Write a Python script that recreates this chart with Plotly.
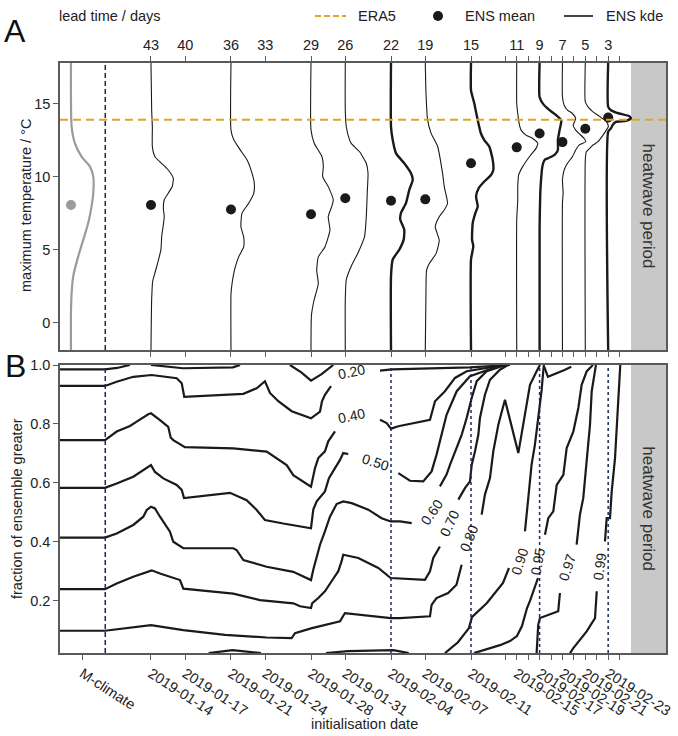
import plotly.graph_objects as go

# ---------------- data ----------------
lead_major = [43, 40, 36, 33, 29, 26, 22, 19, 15, 11, 9, 7, 5, 3]
lead_minor = [12, 10, 8, 6, 4, 2]
init_dates = ["2019-01-14", "2019-01-17", "2019-01-21", "2019-01-24", "2019-01-28",
              "2019-01-31", "2019-02-04", "2019-02-07", "2019-02-11", "2019-02-15",
              "2019-02-17", "2019-02-19", "2019-02-21", "2019-02-23"]
mclim_tick_lead = 49
mclim_curve_lead = 50
mclim_sep_lead = 47
highlight_leads = [22, 15, 9, 3]
heatwave_start_lead = 1
era5_tmax = 13.9
x_range = [50.96, -2.06]
yA_range = [-1.88, 17.8]
yB_range = [0.0224, 1.0]

ens_mean_lead = [43, 36, 29, 26, 22, 19, 15, 11, 9, 7, 5, 3]
ens_mean_T = [8.05, 7.75, 7.42, 8.52, 8.34, 8.44, 10.91, 12.0, 12.95, 12.36, 13.27, 14.05]
mclim_mean_T = 8.05

# KDE curves: temperature and density width (days)
kde_T_mc = [17.8, 13.4, 12.27, 11.36, 10.68, 10.0, 8.86, 7.73, 6.82, 5.68, 4.55, 3.18, 2.05, 0.68, -1.88]
kde_w_mc = [0, 0.06, 0.35, 0.93, 1.66, 1.95, 1.95, 1.75, 1.51, 1.08, 0.64, 0.20, 0.06, 0, 0]
kde_T_43 = [17.8, 14.55, 13.41, 12.05, 11.36, 10.91, 10.45, 9.89, 9.32, 8.86, 8.41, 7.84, 7.27, 6.70, 5.91, 5.0, 4.09, 3.41, 2.84, 1.59, -1.88]
kde_w_43 = [0, 0.06, 0.12, 0.12, 0.35, 0.93, 1.51, 1.95, 1.86, 1.51, 1.16, 1.08, 1.16, 1.08, 0.94, 0.87, 0.59, 0.35, 0.15, 0.06, 0]
kde_T_36 = [17.8, 13.18, 12.52, 11.83, 11.15, 10.23, 9.54, 8.85, 8.17, 7.48, 6.56, 5.87, 5.18, 4.50, 3.81, 3.35, 2.66, 1.97, -1.88]
kde_w_36 = [0, 0, 0.24, 0.81, 1.40, 1.84, 2.04, 1.99, 1.55, 0.96, 0.87, 1.11, 1.11, 0.67, 0.38, 0.24, 0.09, 0, 0]
kde_T_29 = [17.8, 13.2, 12.27, 11.36, 10.69, 10.0, 9.31, 8.39, 7.94, 7.25, 6.33, 5.18, 4.50, 3.58, 2.66, 1.51, 0.5, -1.88]
kde_w_29 = [0, 0, 0.29, 0.96, 1.08, 1.02, 1.51, 1.95, 1.81, 1.51, 1.66, 1.22, 0.64, 0.50, 0.64, 0.26, 0.04, 0]
kde_T_26 = [17.8, 14.55, 13.41, 12.5, 12.27, 11.7, 10.91, 10.23, 8.86, 7.27, 5.91, 4.77, 3.86, 2.95, 1.59, -1.88]
kde_w_26 = [0, 0, 0.09, 0.38, 0.52, 1.25, 1.84, 1.99, 1.92, 1.84, 1.69, 1.11, 0.52, 0.09, 0, 0]
kde_T_22 = [17.8, 13.41, 12.5, 11.59, 10.91, 10.23, 9.77, 9.09, 8.18, 7.5, 7.05, 6.36, 5.68, 5.0, 4.32, 3.18, -1.88]
kde_w_22 = [0, 0, 0.15, 0.44, 1.16, 1.75, 1.90, 1.60, 1.31, 0.87, 0.81, 1.16, 1.11, 0.73, 0.15, 0, 0]
kde_T_19 = [17.8, 15.73, 13.9, 12.98, 12.06, 10.23, 9.31, 8.17, 7.71, 7.25, 6.56, 5.64, 4.72, 4.04, 3.58, 2.2, -1.88]
kde_w_19 = [0, 0.06, 0.20, 0.50, 1.08, 1.51, 1.66, 1.95, 1.66, 1.22, 0.87, 1.22, 0.94, 0.35, 0.11, 0.06, 0]
kde_T_15 = [17.8, 15.91, 15.0, 13.86, 12.95, 12.5, 12.05, 11.14, 10.45, 10.11, 9.66, 9.20, 8.64, 7.95, 7.5, 6.82, 5.68, 5.23, 4.32, -1.88]
kde_w_15 = [0, 0, 0.29, 0.59, 0.87, 1.16, 1.60, 1.90, 1.95, 1.75, 1.16, 0.67, 0.44, 0.59, 0.38, 0.15, 0.09, 0.20, 0, 0]
kde_T_11 = [17.8, 15.0, 14.32, 13.52, 13.18, 12.84, 12.61, 12.27, 11.93, 11.36, 10.68, 10.11, 9.32, 8.41, 7.05, -1.88]
kde_w_11 = [0, 0, 0.09, 0.24, 0.38, 0.81, 1.40, 1.84, 1.69, 1.11, 0.52, 0.17, 0.09, 0.09, 0, 0]
kde_T_9 = [17.8, 15.45, 15.0, 14.55, 14.2, 13.86, 13.18, 12.5, 11.82, 11.48, 11.25, 11.14, 10.68, 10.0, 8.86, 6.5, -1.88]
kde_w_9 = [0, 0, 0.29, 0.87, 1.46, 1.90, 1.75, 1.60, 1.60, 1.31, 0.73, 0.44, 0.24, 0.15, 0.06, 0, 0]
kde_T_7 = [17.8, 15.45, 14.89, 14.55, 14.32, 13.98, 13.52, 13.18, 12.61, 12.39, 12.16, 11.82, 11.36, 10.91, 10.45, 9.77, 8.86, 8.2, -1.88]
kde_w_7 = [0, 0, 0.15, 0.44, 0.87, 1.16, 0.94, 1.16, 1.90, 2.04, 1.46, 1.16, 0.87, 0.44, 0.15, 0, 0.06, 0, 0]
kde_T_5 = [17.8, 15.11, 14.77, 14.43, 14.2, 13.98, 13.86, 13.64, 13.41, 13.18, 12.84, 12.39, 12.16, 11.93, 11.70, 11.14, -1.88]
kde_w_5 = [0, 0, 0.24, 0.67, 1.11, 1.49, 1.75, 1.95, 2.01, 1.84, 1.55, 1.11, 0.67, 0.38, 0.09, 0, 0]
kde_T_3 = [17.8, 14.77, 14.55, 14.32, 14.14, 13.98, 13.82, 13.75, 13.52, 13.30, 13.07, -1.88]
kde_w_3 = [0, 0, 0.24, 0.96, 1.84, 1.99, 1.55, 0.67, 0.38, 0.24, 0, 0]

# Contour lines of panel B: (lead, fraction) per segment
c010_a_lead = [50.96, 47.02, 45.97, 44.84]; c010_a_frac = [0.985, 0.985, 0.990, 1.0]
c010_b_lead = [43.0, 40.2, 35.83, 35.21]; c010_b_frac = [1.0, 0.989, 0.992, 1.0]
c010_c_lead = [30.84, 29.82, 29.0, 28.07, 27.05]; c010_c_frac = [1.0, 0.974, 0.947, 0.969, 1.0]

c020_a_lead = [50.96, 47.02, 46.0, 44.55, 42.94, 40.75, 40.31, 40.09, 34.92, 33.75, 33.03, 32.59, 31.86, 30.69, 29.0, 28.21, 28.04, 27.78, 27.25]
c020_a_frac = [0.929, 0.929, 0.943, 0.960, 0.966, 0.955, 0.938, 0.892, 0.902, 0.921, 0.945, 0.905, 0.877, 0.843, 0.819, 0.842, 0.877, 0.899, 0.928]
c020_b_lead = [22.96, 21.94, 15.09, 12.47, 11.59]
c020_b_frac = [0.981, 0.985, 0.992, 0.997, 1.0]

c040_a_lead = [50.96, 47.02, 46.0, 44.84, 44.25, 43.67, 43.24, 43.0, 42.65, 42.21, 41.49, 41.28, 41.05, 40.03, 35.80, 32.88, 31.13, 30.55, 29.0, 28.65, 28.36, 27.78, 27.49, 26.90]
c040_a_frac = [0.745, 0.745, 0.774, 0.793, 0.808, 0.824, 0.833, 0.836, 0.827, 0.813, 0.790, 0.754, 0.745, 0.721, 0.717, 0.706, 0.660, 0.626, 0.587, 0.650, 0.684, 0.707, 0.741, 0.775]
c040_b_lead = [22.96, 22.38, 22.0, 21.36, 18.59, 18.30, 18.15, 17.28, 16.40, 15.38, 13.34, 12.03]
c040_b_frac = [0.814, 0.803, 0.784, 0.792, 0.814, 0.854, 0.877, 0.911, 0.956, 0.979, 0.992, 1.0]

c050_a_lead = [50.96, 47.02, 46.0, 44.55, 43.0, 42.65, 41.92, 40.75, 40.31, 40.11, 36.09, 34.63, 33.75, 33.03, 31.43, 29.0, 28.80, 28.50, 27.78, 27.43, 26.90, 26.46, 26.18, 25.74]
c050_a_frac = [0.583, 0.583, 0.598, 0.621, 0.660, 0.637, 0.615, 0.593, 0.576, 0.548, 0.566, 0.541, 0.508, 0.474, 0.462, 0.446, 0.509, 0.537, 0.571, 0.616, 0.650, 0.678, 0.701, 0.698]
c050_b_lead = [21.36, 20.34, 19.18, 18.45, 18.02, 17.58, 17.14, 16.25, 15.09, 13.05, 12.03]
c050_b_frac = [0.633, 0.607, 0.605, 0.639, 0.695, 0.763, 0.831, 0.911, 0.962, 0.990, 1.0]

c060_a_lead = [50.96, 47.02, 46.0, 44.55, 43.67, 43.37, 43.0, 42.65, 42.21, 41.34, 41.05, 40.17, 35.80, 35.51, 34.92, 32.88, 30.55, 29.0, 28.80, 28.50, 28.21, 27.78, 27.34, 26.76, 26.18, 25.44, 23.99, 22.82, 22.03, 21.21, 20.19]
c060_a_frac = [0.414, 0.414, 0.428, 0.457, 0.485, 0.508, 0.519, 0.513, 0.485, 0.434, 0.400, 0.378, 0.378, 0.372, 0.338, 0.315, 0.298, 0.270, 0.305, 0.345, 0.390, 0.435, 0.485, 0.528, 0.537, 0.531, 0.509, 0.480, 0.469, 0.469, 0.463]
c060_b_lead = [17.72, 17.14, 16.84, 16.41, 15.82, 15.38, 14.94, 14.50, 13.63, 12.76, 12.03]
c060_b_frac = [0.588, 0.628, 0.661, 0.707, 0.763, 0.820, 0.888, 0.945, 0.979, 0.990, 1.0]

c070_a_lead = [50.96, 47.02, 46.0, 44.55, 42.94, 42.21, 40.46, 40.17, 35.80, 33.46, 30.55, 29.96, 29.0, 28.89, 28.36, 27.78, 27.20, 26.61, 26.32, 26.18, 24.86, 23.11, 22.03, 19.03, 18.59, 18.30, 17.72]
c070_a_frac = [0.239, 0.239, 0.258, 0.281, 0.303, 0.292, 0.270, 0.241, 0.224, 0.202, 0.191, 0.181, 0.175, 0.192, 0.209, 0.232, 0.266, 0.300, 0.334, 0.356, 0.345, 0.311, 0.277, 0.271, 0.300, 0.345, 0.384]
c070_b_lead = [16.11, 15.53, 15.09, 14.94, 14.65, 14.36, 14.22, 13.78, 13.34, 12.47, 11.77]
c070_b_frac = [0.543, 0.582, 0.605, 0.661, 0.707, 0.763, 0.820, 0.899, 0.950, 0.984, 1.0]

c080_a_lead = [50.96, 47.02, 43.0, 40.17, 36.53, 32.88, 30.69, 30.40, 29.0, 26.46, 26.03, 22.03, 21.21, 18.59, 18.45, 18.02, 17.0, 16.27, 15.82]
c080_a_frac = [0.098, 0.098, 0.117, 0.100, 0.084, 0.075, 0.073, 0.090, 0.106, 0.130, 0.158, 0.141, 0.141, 0.147, 0.186, 0.209, 0.226, 0.254, 0.322]
c080_b_lead = [14.07, 13.78, 13.34, 13.05, 12.61, 12.03, 10.86, 10.57, 10.13, 9.84, 9.26, 8.97]
c080_b_frac = [0.492, 0.560, 0.616, 0.707, 0.797, 0.882, 0.701, 0.769, 0.877, 0.933, 0.979, 1.0]

c090_a_lead = [17.28, 16.14, 15.18, 14.92, 13.61, 12.20, 11.68]
c090_a_frac = [0.022, 0.059, 0.107, 0.144, 0.192, 0.260, 0.311]
c090_b_lead = [10.28, 10.13, 9.84, 9.70, 9.41, 9.12, 8.83, 8.68, 8.62]
c090_b_frac = [0.435, 0.492, 0.594, 0.662, 0.729, 0.820, 0.911, 0.979, 1.0]
c090_c_lead = [37.95, 35.86, 33.38]; c090_c_frac = [0.022, 0.032, 0.022]
c090_d_lead = [27.69, 25.76, 21.78, 20.45]; c090_d_frac = [0.022, 0.029, 0.032, 0.022]

c095_a_lead = [14.74, 12.47, 11.59, 10.98, 10.54, 10.10, 9.84, 9.41, 9.14]
c095_a_frac = [0.022, 0.049, 0.063, 0.080, 0.114, 0.175, 0.199, 0.243, 0.277]
c095_b_lead = [8.53, 8.24, 7.80, 7.50, 6.92, 6.63, 6.05, 5.61, 5.32, 4.87, 4.44, 4.33]
c095_b_frac = [0.424, 0.480, 0.503, 0.593, 0.627, 0.718, 0.774, 0.854, 0.933, 0.979, 0.996, 1.0]
c095_c_lead = [8.59, 8.27, 6.82, 6.23]; c095_c_frac = [0.994, 0.960, 0.983, 0.994]

c097_a_lead = [9.26, 9.12, 8.97, 7.37, 7.22]
c097_a_frac = [0.022, 0.118, 0.141, 0.164, 0.226]
c097_b_lead = [5.76, 5.47, 5.18, 4.88, 4.59, 4.44, 4.15, 4.07]
c097_b_frac = [0.390, 0.492, 0.548, 0.684, 0.797, 0.911, 0.979, 1.0]

c099_a_lead = [6.34, 6.05, 4.88, 4.15, 4.0]
c099_a_frac = [0.022, 0.039, 0.096, 0.141, 0.232]
c099_b_lead = [3.28, 3.13, 2.84, 2.69, 2.40, 2.25, 2.11, 1.96, 1.94]
c099_b_frac = [0.401, 0.480, 0.480, 0.571, 0.684, 0.797, 0.911, 0.990, 1.0]

# contour labels: text, lead, fraction, angle
clab_text = ["0.20", "0.40", "0.50", "0.60", "0.70", "0.80", "0.90", "0.95", "0.97", "0.99"]
clab_lead = [25.5, 25.5, 23.4, 18.42, 16.85, 15.18, 10.72, 9.14, 6.6, 3.72]
clab_frac = [0.976, 0.827, 0.671, 0.501, 0.463, 0.413, 0.334, 0.334, 0.311, 0.317]
clab_angle = [-12, -12, 18, -55, -65, -68, -72, -80, -72, -82]

# ---------------- figure ----------------
W, H = 678, 736
FONT = "Liberation Sans, Arial, Helvetica, sans-serif"
INK = "#1a1a1a"
FRAME = "#5a5a5a"
NAVY = "#1c2b55"
GOLD = "#DFA52A"
GREY_BOX = "#c8c8c8"

fig = go.Figure()

# Panel A: KDE curves
kde_sets = [
    (43, kde_T_43, kde_w_43), (36, kde_T_36, kde_w_36), (29, kde_T_29, kde_w_29),
    (26, kde_T_26, kde_w_26), (22, kde_T_22, kde_w_22), (19, kde_T_19, kde_w_19),
    (15, kde_T_15, kde_w_15), (11, kde_T_11, kde_w_11), (9, kde_T_9, kde_w_9),
    (7, kde_T_7, kde_w_7), (5, kde_T_5, kde_w_5), (3, kde_T_3, kde_w_3),
]
fig.add_trace(go.Scatter(
    x=[mclim_curve_lead - w for w in kde_w_mc], y=kde_T_mc, mode="lines",
    line=dict(color="#9b9b9b", width=2.2, shape="spline", smoothing=0.6),
    xaxis="x", yaxis="y", hoverinfo="skip", showlegend=False))
for lead, T, wd in kde_sets:
    thick = lead in highlight_leads
    fig.add_trace(go.Scatter(
        x=[lead - w for w in wd], y=T, mode="lines",
        line=dict(color=INK, width=2.4 if thick else 1.1, shape="spline", smoothing=0.5),
        xaxis="x", yaxis="y", hoverinfo="skip", showlegend=False))

fig.add_trace(go.Scatter(x=[mclim_curve_lead], y=[mclim_mean_T], mode="markers",
                         marker=dict(color="#9b9b9b", size=10),
                         xaxis="x", yaxis="y", showlegend=False))
fig.add_trace(go.Scatter(x=ens_mean_lead, y=ens_mean_T, mode="markers",
                         marker=dict(color=INK, size=10),
                         xaxis="x", yaxis="y", showlegend=False))

# Panel B: contour lines
segments = [
    (c010_a_lead, c010_a_frac), (c010_b_lead, c010_b_frac), (c010_c_lead, c010_c_frac),
    (c020_a_lead, c020_a_frac), (c020_b_lead, c020_b_frac),
    (c040_a_lead, c040_a_frac), (c040_b_lead, c040_b_frac),
    (c050_a_lead, c050_a_frac), (c050_b_lead, c050_b_frac),
    (c060_a_lead, c060_a_frac), (c060_b_lead, c060_b_frac),
    (c070_a_lead, c070_a_frac), (c070_b_lead, c070_b_frac),
    (c080_a_lead, c080_a_frac), (c080_b_lead, c080_b_frac),
    (c090_a_lead, c090_a_frac), (c090_b_lead, c090_b_frac),
    (c090_c_lead, c090_c_frac), (c090_d_lead, c090_d_frac),
    (c095_a_lead, c095_a_frac), (c095_b_lead, c095_b_frac), (c095_c_lead, c095_c_frac),
    (c097_a_lead, c097_a_frac), (c097_b_lead, c097_b_frac),
    (c099_a_lead, c099_a_frac), (c099_b_lead, c099_b_frac),
]
for lx, fy in segments:
    fig.add_trace(go.Scatter(x=lx, y=fy, mode="lines",
                             line=dict(color=INK, width=2.2),
                             xaxis="x2", yaxis="y2", hoverinfo="skip", showlegend=False,
                             cliponaxis=True))

shapes = []
annotations = []

def note(**kw):
    kw.setdefault("showarrow", False)
    kw.setdefault("xanchor", "center")
    kw.setdefault("yanchor", "middle")
    annotations.append(kw)

# heatwave boxes
for xr, yr in (("x", "y domain"), ("x2", "y2 domain")):
    shapes.append(dict(type="rect", xref=xr, yref=yr, x0=heatwave_start_lead, x1=x_range[1],
                       y0=0, y1=1, fillcolor=GREY_BOX, line=dict(width=0), layer="below"))
    shapes.append(dict(type="line", xref=xr, yref=yr, x0=mclim_sep_lead, x1=mclim_sep_lead,
                       y0=0, y1=1, line=dict(color=NAVY, width=1.5, dash="5px,3px"), layer="above"))
    note(xref=xr, yref=yr, x=-0.55, y=0.5, text="heatwave period", textangle=90,
         font=dict(size=17, color="#333333", family=FONT))
# ERA5 line
shapes.append(dict(type="line", xref="x domain", yref="y", x0=0, x1=1, y0=era5_tmax, y1=era5_tmax,
                   line=dict(color=GOLD, width=2, dash="8px,5px"), layer="above"))
# dotted verticals in B
for ld in highlight_leads:
    shapes.append(dict(type="line", xref="x2", yref="y2 domain", x0=ld, x1=ld, y0=0, y1=1,
                       line=dict(color=NAVY, width=1.5, dash="dot"), layer="above"))

# contour labels
for t, lx, fy, ang in zip(clab_text, clab_lead, clab_frac, clab_angle):
    note(xref="x2", yref="y2", x=lx, y=fy, text=t, textangle=ang,
         font=dict(size=14, color=INK, family=FONT))

def px(x):
    return x / W

def py(y):
    return 1 - y / H

# legend (manual)
shapes.append(dict(type="line", xref="paper", yref="paper", x0=px(315), x1=px(346),
                   y0=py(16), y1=py(16), line=dict(color=GOLD, width=2, dash="6px,3px")))
shapes.append(dict(type="circle", xref="paper", yref="paper", x0=px(433), x1=px(443),
                   y0=py(21), y1=py(11), fillcolor=INK, line=dict(width=0)))
shapes.append(dict(type="line", xref="paper", yref="paper", x0=px(564), x1=px(593),
                   y0=py(16), y1=py(16), line=dict(color=INK, width=1.6)))
for txt, xx in (("ERA5", 356), ("ENS mean", 463), ("ENS kde", 604)):
    note(xref="paper", yref="paper", x=px(xx), y=py(16), text=txt, xanchor="left",
         font=dict(size=14.5, color="#222222", family=FONT))
note(xref="paper", yref="paper", x=px(57), y=py(16), text="lead time / days", xanchor="left",
     font=dict(size=14.5, color="#222222", family=FONT))
# panel letters
note(xref="paper", yref="paper", x=px(15), y=py(31), text="A",
     font=dict(size=32, color="#111111", family=FONT))
note(xref="paper", yref="paper", x=px(15), y=py(366), text="B",
     font=dict(size=32, color="#111111", family=FONT))
# axis titles
note(xref="paper", yref="paper", x=px(26), y=py(206), text="maximum temperature / °C",
     textangle=-90, font=dict(size=14.5, color="#222222", family=FONT))
note(xref="paper", yref="paper", x=px(17), y=py(509), text="fraction of ensemble greater",
     textangle=-90, font=dict(size=14.5, color="#222222", family=FONT))
note(xref="paper", yref="paper", x=px(364), y=py(724), text="initialisation date",
     font=dict(size=14.5, color="#222222", family=FONT))

top_vals = lead_major + lead_minor
top_text = [str(v) for v in lead_major] + [""] * len(lead_minor)
bot_vals = [mclim_tick_lead] + lead_major + lead_minor
bot_text = ["M-climate"] + init_dates + [""] * len(lead_minor)

x_dom = [60 / W, 666 / W]
axis_common = dict(showline=True, linecolor=FRAME, linewidth=1.5, ticks="outside",
                   tickcolor=FRAME, tickwidth=1.2, ticklen=5, showgrid=False, zeroline=False,
                   automargin=False,
                   tickfont=dict(size=14.5, color="#222222", family=FONT))

fig.update_layout(
    width=W, height=H, margin=dict(l=0, r=0, t=0, b=0, autoexpand=False),
    paper_bgcolor="white", plot_bgcolor="white", showlegend=False,
    font=dict(family=FONT),
    xaxis=dict(domain=x_dom, anchor="y", side="top", range=x_range, tickmode="array",
               tickvals=top_vals, ticktext=top_text, mirror="ticks", **axis_common),
    yaxis=dict(domain=[1 - 350 / H, 1 - 62.7 / H], anchor="x", range=yA_range,
               tickmode="array", tickvals=[0, 5, 10, 15], mirror=True, **axis_common),
    xaxis2=dict(domain=x_dom, anchor="y2", range=x_range, tickmode="array",
                tickvals=bot_vals, ticktext=bot_text, tickangle=33, mirror=True, **axis_common),
    yaxis2=dict(domain=[1 - 653 / H, 1 - 365 / H], anchor="x2", range=yB_range,
                tickmode="array", tickvals=[0.2, 0.4, 0.6, 0.8, 1.0],
                ticktext=["0.2", "0.4", "0.6", "0.8", "1.0"], mirror=True, **axis_common),
    shapes=shapes, annotations=annotations,
)

fig.write_html("out.html", config={"displayModeBar": False},
               post_script="document.body.style.margin='0';document.body.style.padding='0';")
